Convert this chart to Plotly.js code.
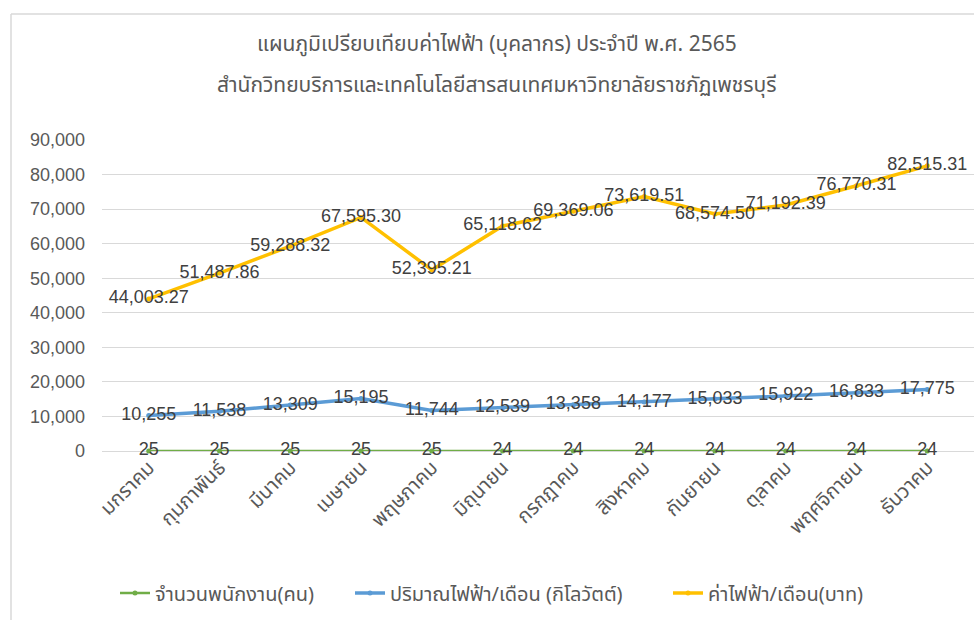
<!DOCTYPE html>
<html>
<head>
<meta charset="utf-8">
<script src="https://cdn.plot.ly/plotly-3.0.1.min.js"></script>
<style>html,body{margin:0;padding:0;background:#fff;}#chart{width:974px;height:620px;}</style>
</head>
<body>
<div id="chart"></div>
<script>
const months = ["มกราคม","กุมภาพันธ์","มีนาคม","เมษายน","พฤษภาคม","มิถุนายน","กรกฎาคม","สิงหาคม","กันยายน","ตุลาคม","พฤศจิกายน","ธันวาคม"];
const staff = [25,25,25,25,25,24,24,24,24,24,24,24];
const kwh = [10255,11538,13309,15195,11744,12539,13358,14177,15033,15922,16833,17775];
const cost = [44003.27,51487.86,59288.32,67595.30,52395.21,65118.62,69369.06,73619.51,68574.50,71192.39,76770.31,82515.31];
const seriesNames = ["จำนวนพนักงาน(คน)","ปริมาณไฟฟ้า/เดือน (กิโลวัตต์)","ค่าไฟฟ้า/เดือน(บาท)"];
const titleLines = ["แผนภูมิเปรียบเทียบค่าไฟฟ้า (บุคลากร) ประจำปี พ.ศ. 2565","สำนักวิทยบริการและเทคโนโลยีสารสนเทศมหาวิทยาลัยราชภัฏเพชรบุรี"];
const yTicks = [0,10000,20000,30000,40000,50000,60000,70000,80000,90000];

const thai = "Tahoma, 'Noto Sans Thai', 'Noto Sans', sans-serif";
const num = "'Liberation Sans', Arial, sans-serif";
const lblFont = {family: num, size: 18, color: "#404040"};

function mk(y, name, color, tmpl, w, leg) {
  return {
    x: months, y: y, name: name, type: "scatter", mode: "lines+markers+text",
    line: {color: color, width: w},
    marker: {color: color, size: 5},
    texttemplate: tmpl, textposition: "middle center",
    textfont: lblFont, cliponaxis: false, hoverinfo: "skip", legend: leg
  };
}
const data = [
  mk(staff, seriesNames[0], "#70AD47", "%{y}", 2.5, "legend"),
  mk(kwh, seriesNames[1], "#5B9BD5", "%{y:,}", 3.5, "legend2"),
  mk(cost, seriesNames[2], "#FFC000", "%{y:,.2f}", 3.5, "legend3")
];
const px = v => (v - 102) / 872;
const py = v => (451 - v) / 311;
function leg(x) {
  return {orientation: "h", x: px(x), xanchor: "left", y: py(593), yanchor: "middle",
    font: {family: thai, size: 20, color: "#595959"}, itemwidth: 30, bgcolor: "rgba(0,0,0,0)"};
}
const layout = {
  width: 974, height: 620,
  margin: {l: 102, r: 0, t: 140, b: 169},
  paper_bgcolor: "#fff", plot_bgcolor: "#fff",
  showlegend: true,
  legend: leg(115), legend2: leg(350), legend3: leg(668),
  xaxis: {type: "category", tickangle: -45, showgrid: false, showline: false, ticks: "",
    tickfont: {family: thai, size: 20, color: "#595959"}, fixedrange: true},
  yaxis: {range: [0, 90000], tickvals: yTicks, tickformat: ",", showgrid: true, gridcolor: "#D9D9D9",
    gridwidth: 1, zeroline: true, zerolinecolor: "#D9D9D9", zerolinewidth: 1, showline: false, ticks: "",
    ticklabelstandoff: 16, tickfont: {family: num, size: 18, color: "#595959"}, fixedrange: true},
  annotations: [
    {text: titleLines[0], xref: "paper", yref: "paper", x: px(497), y: py(45), xanchor: "center", yanchor: "middle",
      showarrow: false, font: {family: thai, size: 21, color: "#595959"}},
    {text: titleLines[1], xref: "paper", yref: "paper", x: px(497), y: py(85), xanchor: "center", yanchor: "middle",
      showarrow: false, font: {family: thai, size: 21, color: "#595959"}}
  ],
  shapes: [
    {type: "line", xref: "paper", yref: "paper", x0: px(11), x1: px(11), y0: py(14), y1: py(620), line: {color: "#D9D9D9", width: 1.5}},
    {type: "line", xref: "paper", yref: "paper", x0: px(11), x1: px(974), y0: py(14), y1: py(14), line: {color: "#D9D9D9", width: 1.5}}
  ]
};
Plotly.newPlot("chart", data, layout, {displayModeBar: false, staticPlot: true});
</script>
</body>
</html>
